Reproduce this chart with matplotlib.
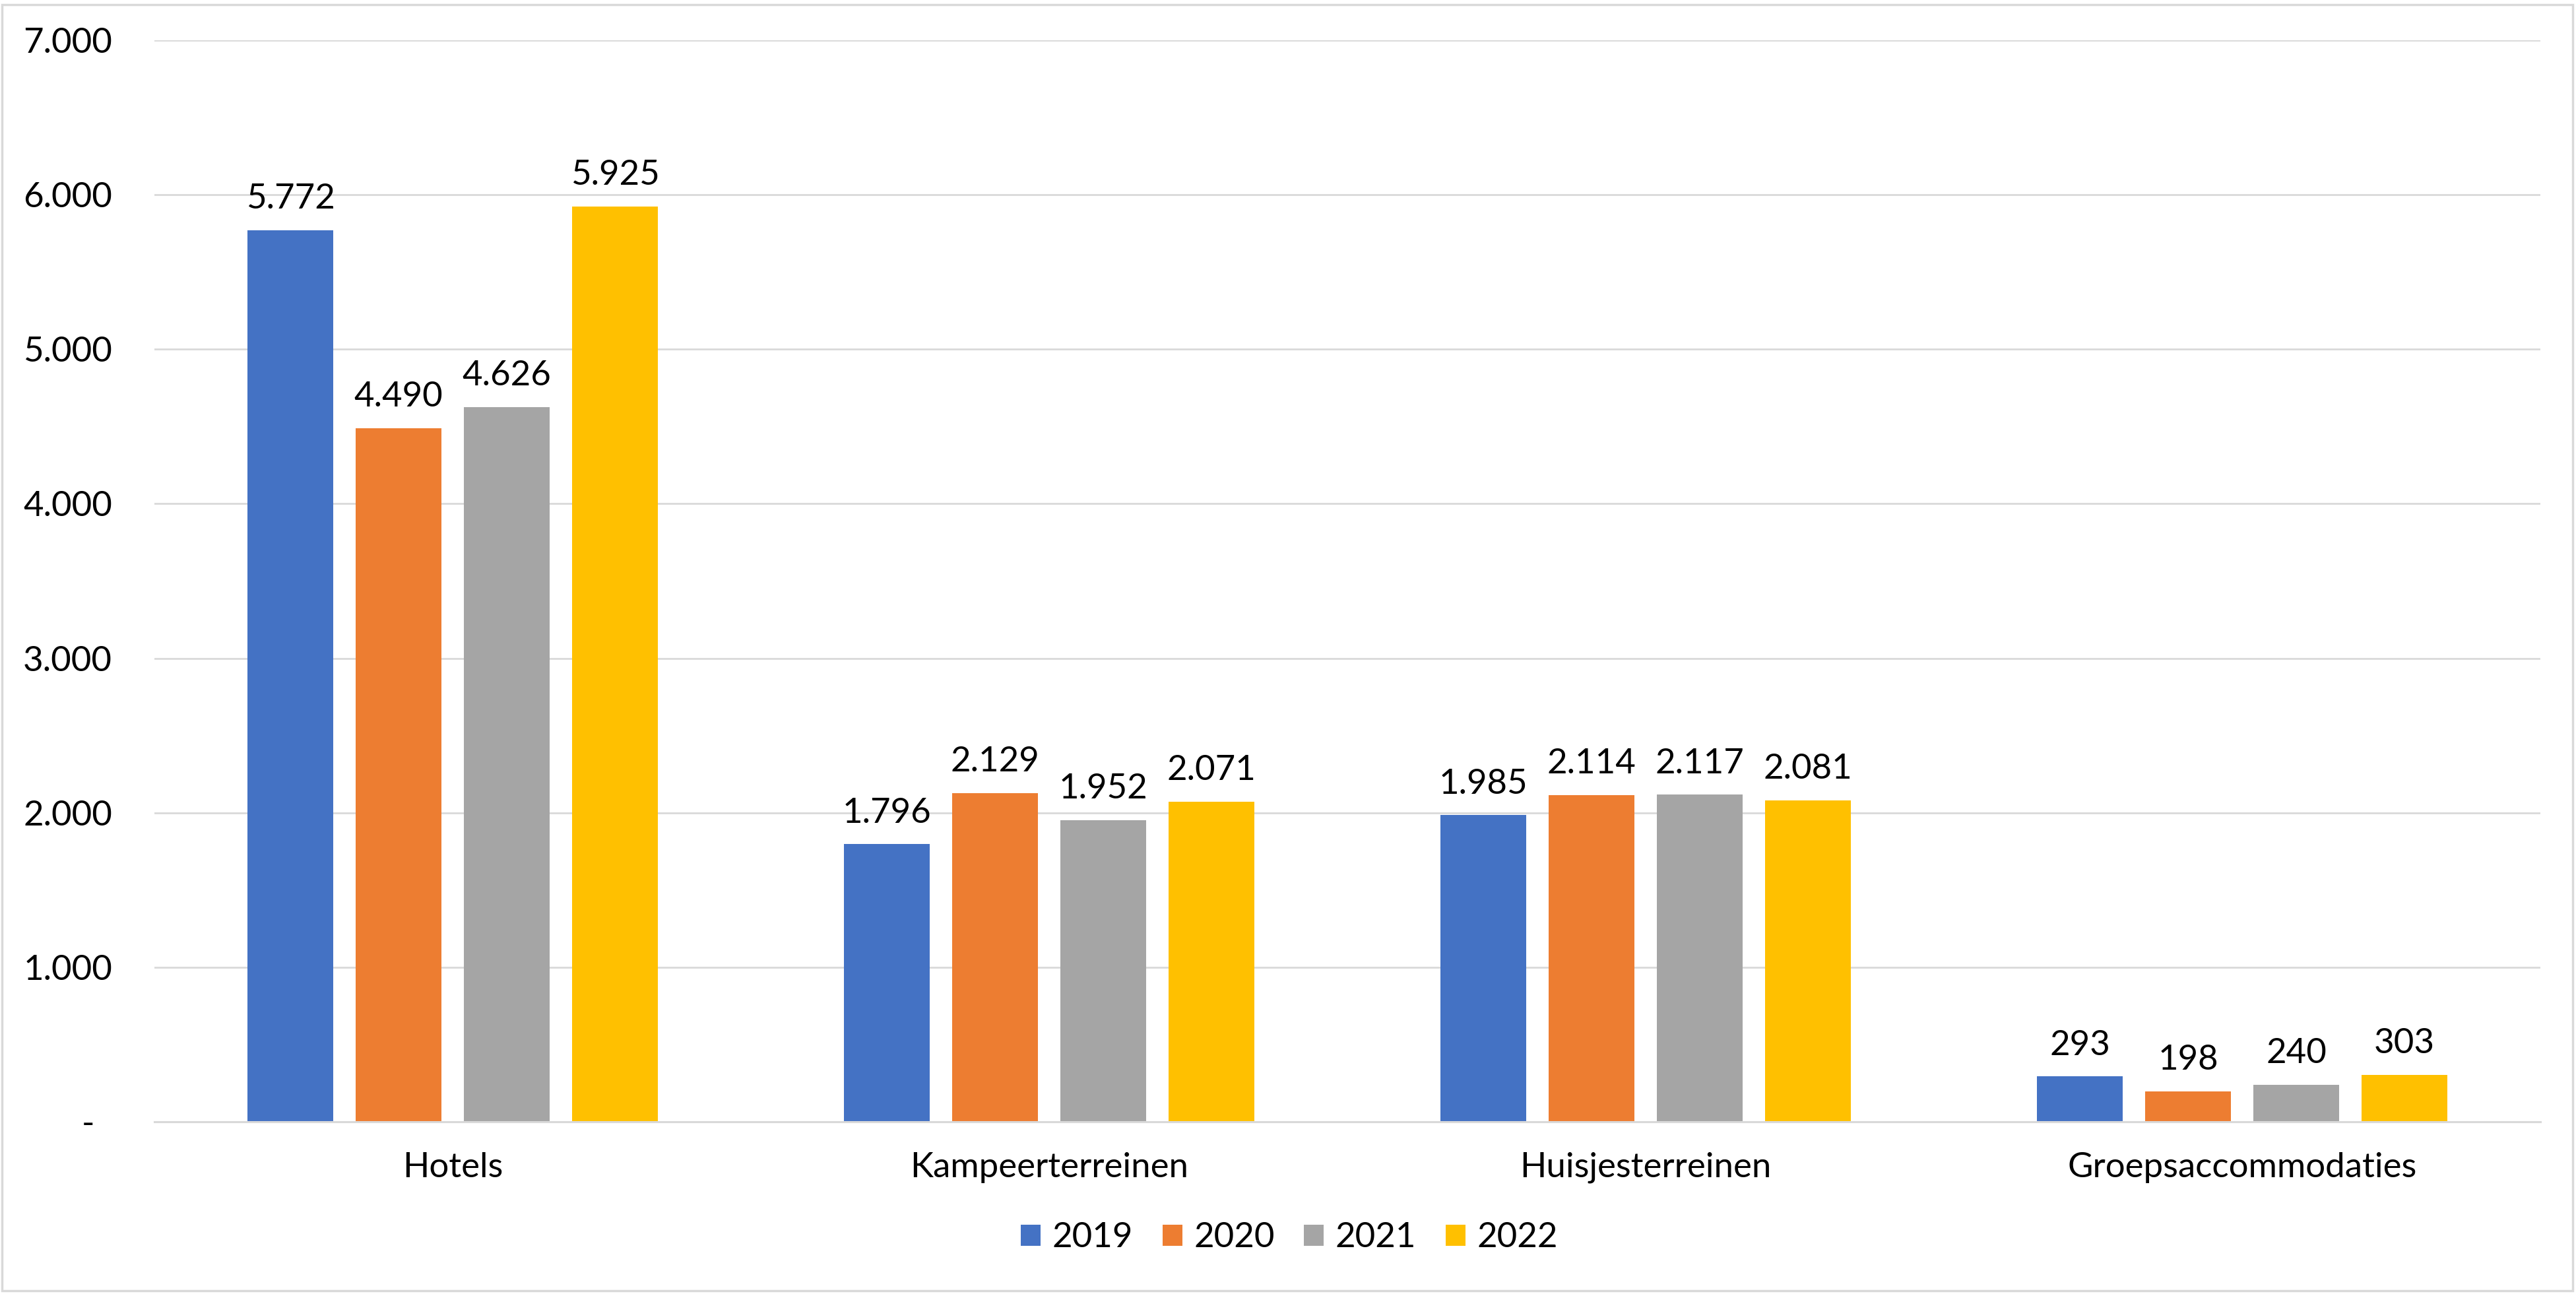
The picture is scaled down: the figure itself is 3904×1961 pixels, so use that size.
import matplotlib
matplotlib.use("Agg")
import matplotlib.pyplot as plt
import numpy as np
from matplotlib.patches import Rectangle

categories = ["Hotels", "Kampeerterreinen", "Huisjesterreinen", "Groepsaccommodaties"]
years = ["2019", "2020", "2021", "2022"]
v2019 = [5772, 1796, 1985, 293]
v2020 = [4490, 2129, 2114, 198]
v2021 = [4626, 1952, 2117, 240]
v2022 = [5925, 2071, 2081, 303]
yticks = [0, 1000, 2000, 3000, 4000, 5000, 6000, 7000]
ytick_labels = ["-  ", "1.000", "2.000", "3.000", "4.000", "5.000", "6.000", "7.000"]

series = [v2019, v2020, v2021, v2022]
colors = ["#4472C4", "#ED7D31", "#A5A5A5", "#FFC000"]

plt.rcParams['font.family'] = ['Lato', 'DejaVu Sans']
FS = 38

fig = plt.figure(figsize=(39.05, 19.61), dpi=100)
ax = fig.add_axes([234/3905, 1 - 1700/1961, (3850-234)/3905, (1700-61)/1961])

x = np.arange(len(categories))
step = 0.1814
width = 0.1433

def fmt(v):
    return f"{v:,}".replace(",", ".")

for i, (vals, c, yr) in enumerate(zip(series, colors, years)):
    bars = ax.bar(x + (i - 1.5) * step, vals, width=width, color=c, label=yr, zorder=3)
    ax.bar_label(bars, labels=[fmt(v) for v in vals], padding=17, fontsize=FS, color="black")

ax.set_xlim(-0.5, 3.5)
ax.set_ylim(0, 7000)
ax.set_yticks(yticks)
ax.set_yticklabels(ytick_labels, fontsize=FS)
ax.set_xticks(x)
ax.set_xticklabels(categories, fontsize=FS)
ax.tick_params(axis='y', length=0, pad=46)
ax.tick_params(axis='x', length=0, pad=33)
ax.yaxis.grid(True, color="#D9D9D9", linewidth=2, zorder=0)
for s in ["top", "right", "left"]:
    ax.spines[s].set_visible(False)
ax.spines["bottom"].set_color("#D9D9D9")
ax.spines["bottom"].set_linewidth(2.2)
ax.spines["bottom"].set_zorder(4)

leg = fig.legend(loc="center", bbox_to_anchor=(1954/3905, 1 - 1876/1961), ncol=4, frameon=False,
                 fontsize=FS, handlelength=0.57, handleheight=0.57, handletextpad=0.33,
                 columnspacing=0.85)

fig.patches.append(Rectangle((3/3905, 5/1961), (3899-3)/3905, (1954-5)/1961,
                             transform=fig.transFigure, fill=False, edgecolor="#D9D9D9",
                             linewidth=2.5))

fig.savefig("out.png", dpi=100, facecolor="white")
